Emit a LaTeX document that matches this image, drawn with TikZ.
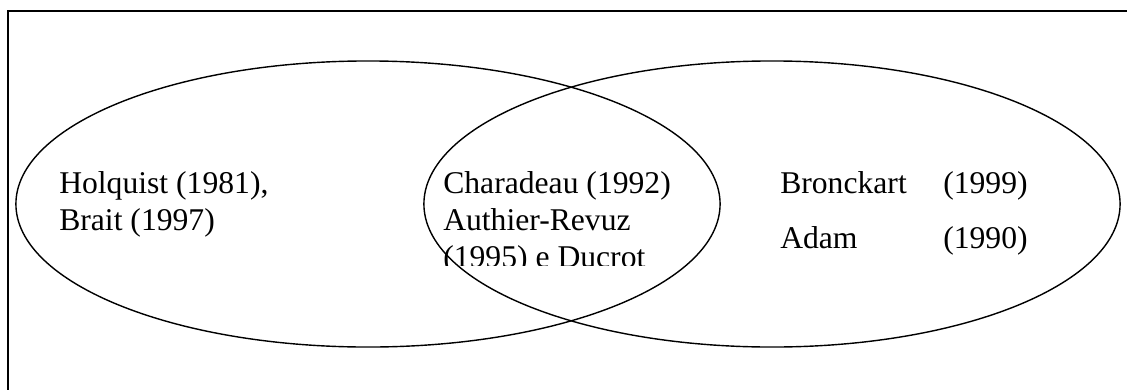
\documentclass[tikz,border=0pt]{standalone}
\usepackage{fontspec}
\setmainfont{Liberation Serif}
\usetikzlibrary{shapes.geometric}
\begin{document}
\begin{tikzpicture}[x=0.025cm, y=-0.025cm,
set/.style={draw, ellipse, line width=1pt, inner sep=0pt, outer sep=0pt, minimum height=7.15cm},
author/.style={anchor=base west, inner sep=0pt, align=left, font=\fontsize{22.5}{26.3}\selectfont}
]
\clip (0,0) rectangle (1127,389);
\draw[line width=1.3pt] (8,11) rectangle (1160,420);
% the two sets
\node[set, minimum width=17.6cm] (leftset) at (368,204) {};
\node[set, minimum width=17.4cm] (rightset) at (772,204) {};
% left only (base = last line)
\node[author] (holquist) at (59,230) {Holquist (1981),\\Brait (1997)};
% intersection, text box cut at the bottom
\begin{scope}
\clip (420,120) rectangle (740,265);
\node[author] (charadeau) at (443,267) {Charadeau (1992)\\Authier-Revuz\\(1995) e Ducrot};
\end{scope}
% right only
\node[author] (bronckart) at (780,193) {Bronckart};
\node[author] (bronckartyear) at (943,193) {(1999)};
\node[author] (adam) at (780,248) {Adam};
\node[author] (adamyear) at (943,248) {(1990)};
\end{tikzpicture}
\end{document}
